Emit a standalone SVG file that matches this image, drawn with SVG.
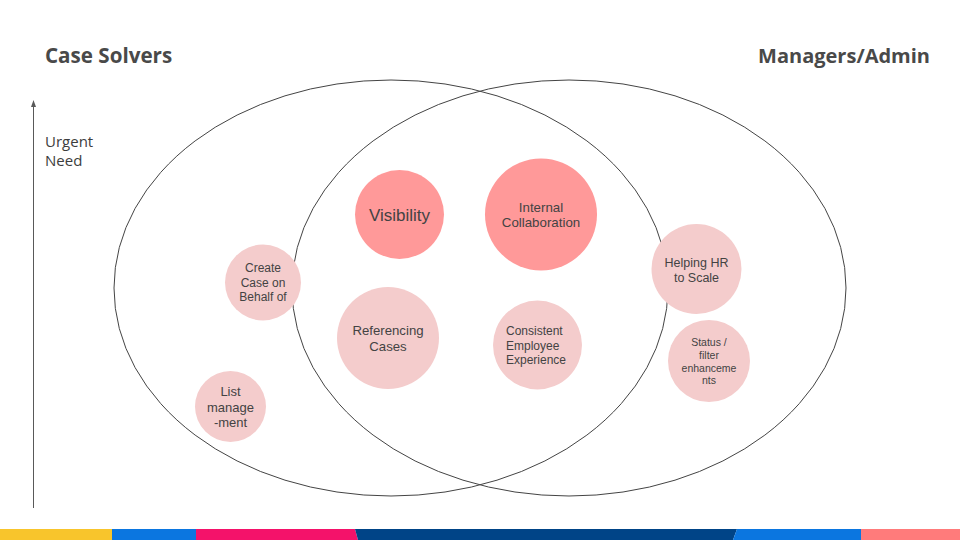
<svg xmlns="http://www.w3.org/2000/svg" width="960" height="540" viewBox="0 0 960 540">
<style>
.hd{font-family:"Open Sans","Liberation Sans",sans-serif;font-weight:700;fill:#494949}
.lb{font-family:"Open Sans","Liberation Sans",sans-serif;font-size:15px;fill:#3d3d3d}
.bt{font-family:"Liberation Sans",Arial,sans-serif;fill:#434343;text-anchor:middle}
.bl{font-family:"Liberation Sans",Arial,sans-serif;fill:#434343;text-anchor:start}
.dark{fill:#ff9999}
.light{fill:#f4cccc}
.ell{fill:none;stroke:#444;stroke-width:1}
</style>
<rect width="960" height="540" fill="#ffffff"/>
<text class="hd" x="45" y="63" font-size="20.6">Case Solvers</text>
<text class="hd" x="930" y="63" font-size="20" text-anchor="end">Managers/Admin</text>
<text class="lb" x="45" y="147">Urgent</text>
<text class="lb" x="45" y="166">Need</text>
<g id="connectors">
<line x1="33.5" y1="508" x2="33.5" y2="105" stroke="#595959" stroke-width="1"/>
<path d="M31,107 L33.5,100 L36,107 Z" fill="#595959"/>
</g>
<g id="ellipse-left"><ellipse class="ell" cx="391" cy="288" rx="277" ry="208"/></g>
<g id="ellipse-right"><ellipse class="ell" cx="569" cy="288" rx="277" ry="208"/></g>
<g id="visibility"><circle class="dark" cx="399.5" cy="214.5" r="44.5"/><text class="bt" x="399.5" y="220.5" font-size="17">Visibility</text></g>
<g id="internal-collaboration"><circle class="dark" cx="541" cy="214.5" r="56"/><text class="bt" x="541" y="211.5" font-size="13.3">Internal</text><text class="bt" x="541" y="226.5" font-size="13.3">Collaboration</text></g>
<g id="create-case"><circle class="light" cx="263" cy="282.5" r="38"/><text class="bt" x="263" y="271.5" font-size="12">Create</text><text class="bt" x="263" y="286.5" font-size="12">Case on</text><text class="bt" x="263" y="300.5" font-size="12">Behalf of</text></g>
<g id="referencing-cases"><circle class="light" cx="388" cy="338" r="51"/><text class="bt" x="388" y="335" font-size="13.2">Referencing</text><text class="bt" x="388" y="351" font-size="13.2">Cases</text></g>
<g id="consistent-experience"><circle class="light" cx="537.5" cy="345" r="44.5"/><text class="bl" x="506" y="335" font-size="12">Consistent</text><text class="bl" x="506" y="349.5" font-size="12">Employee</text><text class="bl" x="506" y="364" font-size="12">Experience</text></g>
<g id="list-management"><circle class="light" cx="230.5" cy="406.5" r="35.5"/><text class="bt" x="230.5" y="395.5" font-size="13">List</text><text class="bt" x="230.5" y="411.5" font-size="13">manage</text><text class="bt" x="230.5" y="426.5" font-size="13">-ment</text></g>
<g id="helping-hr"><circle class="light" cx="696.5" cy="269" r="45"/><text class="bt" x="696.5" y="266.5" font-size="12.5">Helping HR</text><text class="bt" x="696.5" y="281.5" font-size="12.5">to Scale</text></g>
<g id="status-filter"><circle class="light" cx="709" cy="361" r="41"/><text class="bt" x="709" y="346" font-size="10.5">Status /</text><text class="bt" x="709" y="359" font-size="10.5">filter</text><text class="bt" x="709" y="371.5" font-size="10.5">enhanceme</text><text class="bt" x="709" y="384" font-size="10.5">nts</text></g>
<g id="footer-bar">
<rect x="0" y="529" width="112" height="11" fill="#f8c52c"/>
<rect x="112" y="529" width="84" height="11" fill="#0b76e0"/>
<polygon points="196,529 355,529 358,540 196,540" fill="#f4126a"/>
<polygon points="355,529 737,529 733,540 358,540" fill="#004487"/>
<polygon points="737,529 861,529 861,540 733,540" fill="#0b76e0"/>
<rect x="861" y="529" width="99" height="11" fill="#ff7b7b"/>
</g>
</svg>
